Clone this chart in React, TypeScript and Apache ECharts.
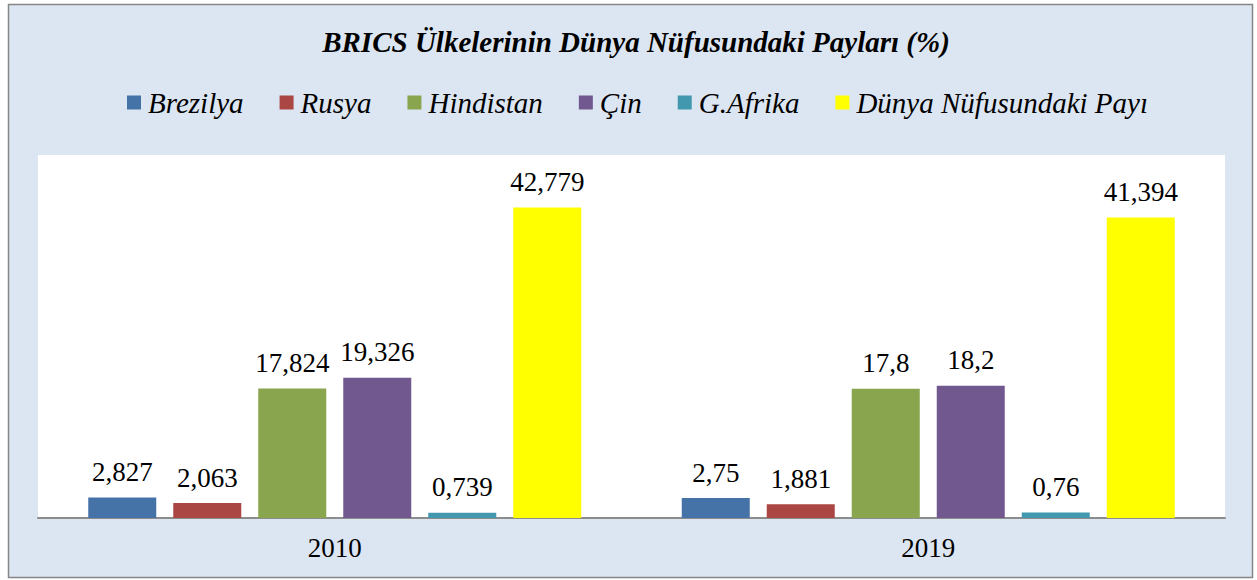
import React, { useEffect, useRef } from "react";
import * as echarts from "echarts";

const categories = ["2010", "2019"];
const seriesNames = ["Brezilya", "Rusya", "Hindistan", "Çin", "G.Afrika", "Dünya Nüfusundaki Payı"];
const brezilya = [2.827, 2.75];
const rusya = [2.063, 1.881];
const hindistan = [17.824, 17.8];
const cin = [19.326, 18.2];
const gAfrika = [0.739, 0.76];
const dunya = [42.779, 41.394];
const colors = ["#4572A7", "#AA4643", "#89A54E", "#71588F", "#4198AF", "#FFFF00"];

const FONT = "'Liberation Serif', 'Times New Roman', serif";

export default function App() {
  const ref = useRef<HTMLDivElement>(null);
  useEffect(() => {
    if (!ref.current) return;
    const chart = echarts.init(ref.current, null, { renderer: "svg" });
    const values = [brezilya, rusya, hindistan, cin, gAfrika, dunya];
    chart.setOption({
      animation: false,
      backgroundColor: "#ffffff",
      graphic: [
        {
          type: "rect",
          shape: { x: 8.5, y: 4.5, width: 1244, height: 573 },
          style: { fill: "#DCE6F2", stroke: "#868686", lineWidth: 1.5 },
          z: -10,
          silent: true,
        },
      ],
      title: {
        text: "BRICS Ülkelerinin Dünya Nüfusundaki Payları (%)",
        left: 631,
        top: 22,
        textAlign: "center",
        textStyle: {
          fontFamily: FONT,
          fontSize: 29,
          fontWeight: "bold",
          fontStyle: "italic",
          color: "#000",
        },
      },
      legend: {
        top: 88,
        left: 127,
        padding: 0,
        itemWidth: 14,
        itemHeight: 14,
        itemGap: 36,
        icon: "rect",
        data: seriesNames,
        textStyle: {
          fontFamily: FONT,
          fontSize: 29,
          fontStyle: "italic",
          color: "#000",
          padding: [0, 0, 0, 2],
        },
      },
      grid: {
        left: 38,
        right: 32,
        top: 155,
        bottom: 62,
        show: true,
        backgroundColor: "#ffffff",
        borderWidth: 0,
      },
      xAxis: {
        type: "category",
        data: categories,
        axisTick: { show: false },
        axisLine: { lineStyle: { color: "#8C8C8C", width: 2 } },
        axisLabel: { fontFamily: FONT, fontSize: 27, color: "#000", margin: 16 },
      },
      yAxis: {
        type: "value",
        min: 0,
        max: 50,
        show: false,
        splitLine: { show: false },
      },
      series: seriesNames.map((name, i) => ({
        name,
        type: "bar",
        data: values[i],
        barWidth: 68,
        barGap: "25%",
        itemStyle: { color: colors[i] },
        label: {
          show: true,
          position: "top",
          distance: 12,
          fontFamily: FONT,
          fontSize: 27,
          color: "#000",
          formatter: (p: any) => String(p.value).replace(".", ","),
        },
      })),
    });
    return () => chart.dispose();
  }, []);
  return (
    <div
      ref={ref}
      style={{ position: "fixed", left: 0, top: 0, width: 1257, height: 580 }}
    />
  );
}
